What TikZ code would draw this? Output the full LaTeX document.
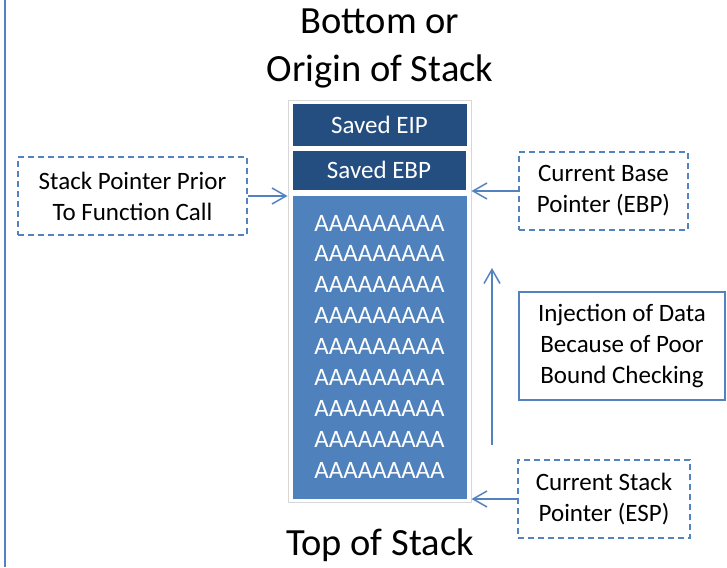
\documentclass[tikz,border=0pt]{standalone}
\usepackage{fontspec}
\setmainfont{Carlito}
\usetikzlibrary{arrows.meta}

\definecolor{darkslot}{RGB}{37,78,128}
\definecolor{fillslot}{RGB}{79,129,189}
\definecolor{edgeblue}{RGB}{84,130,190}
\definecolor{framegray}{RGB}{215,215,215}

\tikzset{
	slot/.style={draw=white, line width=1pt, fill=#1, text=white, font=\fontsize{25}{31}\selectfont, inner sep=0pt},
	atext/.style={text=white, font=\fontsize{25}{31}\selectfont, inner sep=0pt},
	label/.style={align=center, font=\fontsize{25}{31}\selectfont, inner sep=0pt},
	title/.style={align=center, font=\fontsize{38.5}{48}\selectfont, inner sep=0pt},
	note/.style={draw=edgeblue, line width=1.5pt, dash pattern=on 6pt off 4pt, align=center, font=\fontsize{25}{31}\selectfont, inner sep=0pt},
	ptr/.style={draw=edgeblue, line width=1.5pt, -{Straight Barb[length=14pt, width=16pt, line width=1.5pt]}}
}

\begin{document}
\begin{tikzpicture}[x=1pt, y=-1pt]
\useasboundingbox (0,0) rectangle (727,567);
\draw[edgeblue, line width=2pt] (5,0) -- (5,567);

\node[title] (bottom) at (380,48) {Bottom or\\Origin of Stack};
\node[title] (top) at (380,545) {Top of Stack};

\node[draw=framegray, line width=1pt, minimum width=183pt, minimum height=401pt] (stack) at (379.5,301.5) {};
\node[slot=darkslot, minimum width=175pt, minimum height=42pt] (eip) at (379.5,125) {Saved EIP};
\node[slot=darkslot, minimum width=174pt, minimum height=40pt] (ebp) at (379,170) {Saved EBP};
\node[slot=fillslot, minimum width=175pt, minimum height=304pt] (data) at (379.5,347) {};
\foreach \i in {0,...,8}{
	\node[atext] (a\i) at (379.5, 223+30.9*\i) {AAAAAAAAA};
}

\node[note, minimum width=229pt, minimum height=78pt] (prior) at (132.5,196) {Stack Pointer Prior\\To Function Call};
\node[note, minimum width=169pt, minimum height=78pt] (base) at (603.5,191) {Current Base\\Pointer (EBP)};
\node[note, minimum width=172pt, minimum height=78pt] (esp) at (604,499) {Current Stack\\Pointer (ESP)};
\node[draw=edgeblue, line width=1.5pt, label, minimum width=206pt, minimum height=108pt] (inject) at (622,346) {Injection of Data\\Because of Poor\\Bound Checking};

\draw[ptr] (prior.east) -- (prior.east -| stack.west);
\draw[ptr] (base.west) -- (base.west -| stack.east);
\draw[ptr] (esp.west) -- (esp.west -| stack.east);
\coordinate (grow0) at (492,445);
\coordinate (grow1) at (492,268);
\draw[ptr] (grow0) -- (grow1);
\end{tikzpicture}
\end{document}
